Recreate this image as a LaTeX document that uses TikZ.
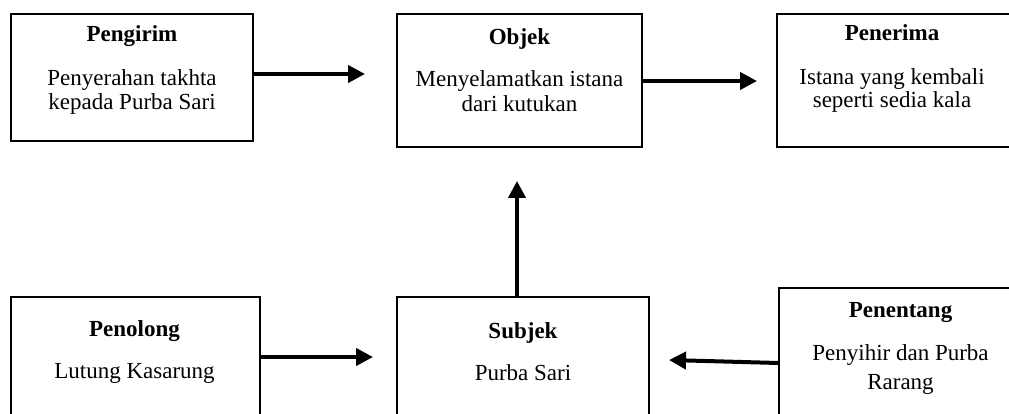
\documentclass[tikz,border=0pt]{standalone}
\usepackage{fontspec}
\setmainfont{Liberation Serif}
\usetikzlibrary{arrows.meta}
\begin{document}
\begin{tikzpicture}[x=1pt,y=-1pt,
  box/.style={draw=black, line width=1.3pt, inner sep=0pt, minimum width=#1},
  ttl/.style={anchor=base, inner sep=0pt, font=\fontsize{23}{25}\selectfont\bfseries},
  txt/.style={anchor=base, inner sep=0pt, font=\fontsize{23}{25}\selectfont},
  arr/.style={line width=4pt, -{Triangle[length=17pt,width=17pt]}}]
\clip (0,0) rectangle (1009,414);
\fill[white] (0,0) rectangle (1009,414);
% boxes
\node[box=242pt, minimum height=127pt] (pengirim) at (132,77.5) {};
\node[box=245pt, minimum height=133pt] (objek) at (519.5,80.5) {};
\node[box=240pt, minimum height=133pt] (penerima) at (897,80.5) {};
\node[box=249pt, minimum height=140pt] (penolong) at (135.5,367) {};
\node[box=252pt, minimum height=140pt] (subjek) at (523,367) {};
\node[box=243pt, minimum height=150pt] (penentang) at (900.5,363) {};
% texts
\node[ttl] (t1) at (132,42) {Pengirim};
\node[txt] (b1a) at (132,86) {Penyerahan takhta};
\node[txt] (b1b) at (132,110) {kepada Purba Sari};
\node[ttl] (t2) at (519.5,45) {Objek};
\node[txt] (b2a) at (519.5,87) {Menyelamatkan istana};
\node[txt] (b2b) at (519.5,112) {dari kutukan};
\node[ttl] (t3) at (892,41) {Penerima};
\node[txt] (b3a) at (892,85) {Istana yang kembali};
\node[txt] (b3b) at (892,108) {seperti sedia kala};
\node[ttl] (t4) at (134.5,336) {Penolong};
\node[txt] (b4) at (134.5,378) {Lutung Kasarung};
\node[ttl] (t5) at (523,338) {Subjek};
\node[txt] (b5) at (523,380) {Purba Sari};
\node[ttl] (t6) at (900.5,317) {Penentang};
\node[txt] (b6a) at (900.5,360) {Penyihir dan Purba};
\node[txt] (b6b) at (900.5,389) {Rarang};
% arrow ends
\coordinate (e1) at (365,74);
\coordinate (e2) at (757,81);
\coordinate (e3) at (373,357);
\coordinate (e4) at (517,181);
\coordinate (e5) at (669,360);
\draw[arr] (pengirim.east |- e1) -- (e1);
\draw[arr] (objek.east |- e2) -- (e2);
\draw[arr] (penolong.east |- e3) -- (e3);
\draw[arr] (subjek.north -| e4) -- (e4);
\draw[arr] ([yshift=-3pt]penentang.west |- e5) -- (e5);
\end{tikzpicture}
\end{document}
